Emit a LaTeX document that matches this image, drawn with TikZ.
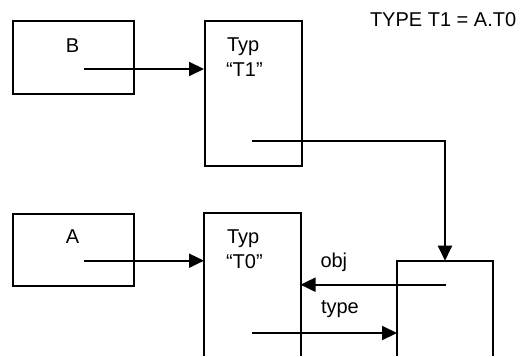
\documentclass[tikz,border=0pt]{standalone}
\usepackage{fontspec}
\setmainfont{Liberation Sans}
\usetikzlibrary{arrows.meta}
\begin{document}
\begin{tikzpicture}[x=1pt,y=-1pt,line width=2pt,
  box/.style={draw,line width=2pt,inner sep=0pt,anchor=north west},
  link/.style={-{Triangle[length=15pt,width=14pt]},line width=2pt},
  lbl/.style={font=\fontsize{20}{24}\selectfont,inner sep=0pt,anchor=base west},
  clbl/.style={font=\fontsize{20}{24}\selectfont,inner sep=0pt,anchor=base}]
\useasboundingbox (0,0) rectangle (526,356);
% closed boxes
\node[box,minimum width=121pt,minimum height=73pt] (B) at (12,20) {};
\node[box,minimum width=96.5pt,minimum height=144.5pt] (T1) at (204,20) {};
\node[box,minimum width=121pt,minimum height=72pt] (A) at (12,212.7) {};
% open boxes (cut at bottom)
\coordinate (T0nw) at (204,212.7);
\coordinate (T0ne) at (300.5,212.7);
\coordinate (Rnw) at (397,260.7);
\coordinate (Rne) at (493,260.7);
\coordinate (Rtop) at (445,260.7);
\draw (204,356) -- (T0nw) -- (T0ne) -- (300.5,356);
\draw (397,356) -- (Rnw) -- (Rne) -- (493,356);
% labels
\node[clbl] (Bl) at (72.5,52) {B};
\node[clbl] (Al) at (72.5,243) {A};
\node[lbl] (T1a) at (226,51.7) {Typ};
\node[lbl] (T1b) at (225,76) {“T1”};
\node[lbl] (T0a) at (226,243) {Typ};
\node[lbl] (T0b) at (225,268) {“T0”};
\node[lbl] (obj) at (319.5,267) {obj};
\node[lbl] (typ) at (320,313) {type};
\node[lbl] (decl) at (369,26) {TYPE T1 = A.T0};
% connectors
\coordinate (bs) at (84,69);
\coordinate (as) at (84,260.7);
\coordinate (t1s) at (252,141);
\coordinate (os) at (445.5,284.7);
\coordinate (oe) at (300.5,284.7);
\coordinate (ts) at (252,333);
\coordinate (te) at (397,333);
\draw[link] (bs) -- (T1.west |- bs);
\draw[link] (as) -- (T0nw |- as);
\draw[link] (t1s) -| (Rtop);
\draw[link] (os) -- (oe);
\draw[link] (ts) -- (te);
\end{tikzpicture}
\end{document}
